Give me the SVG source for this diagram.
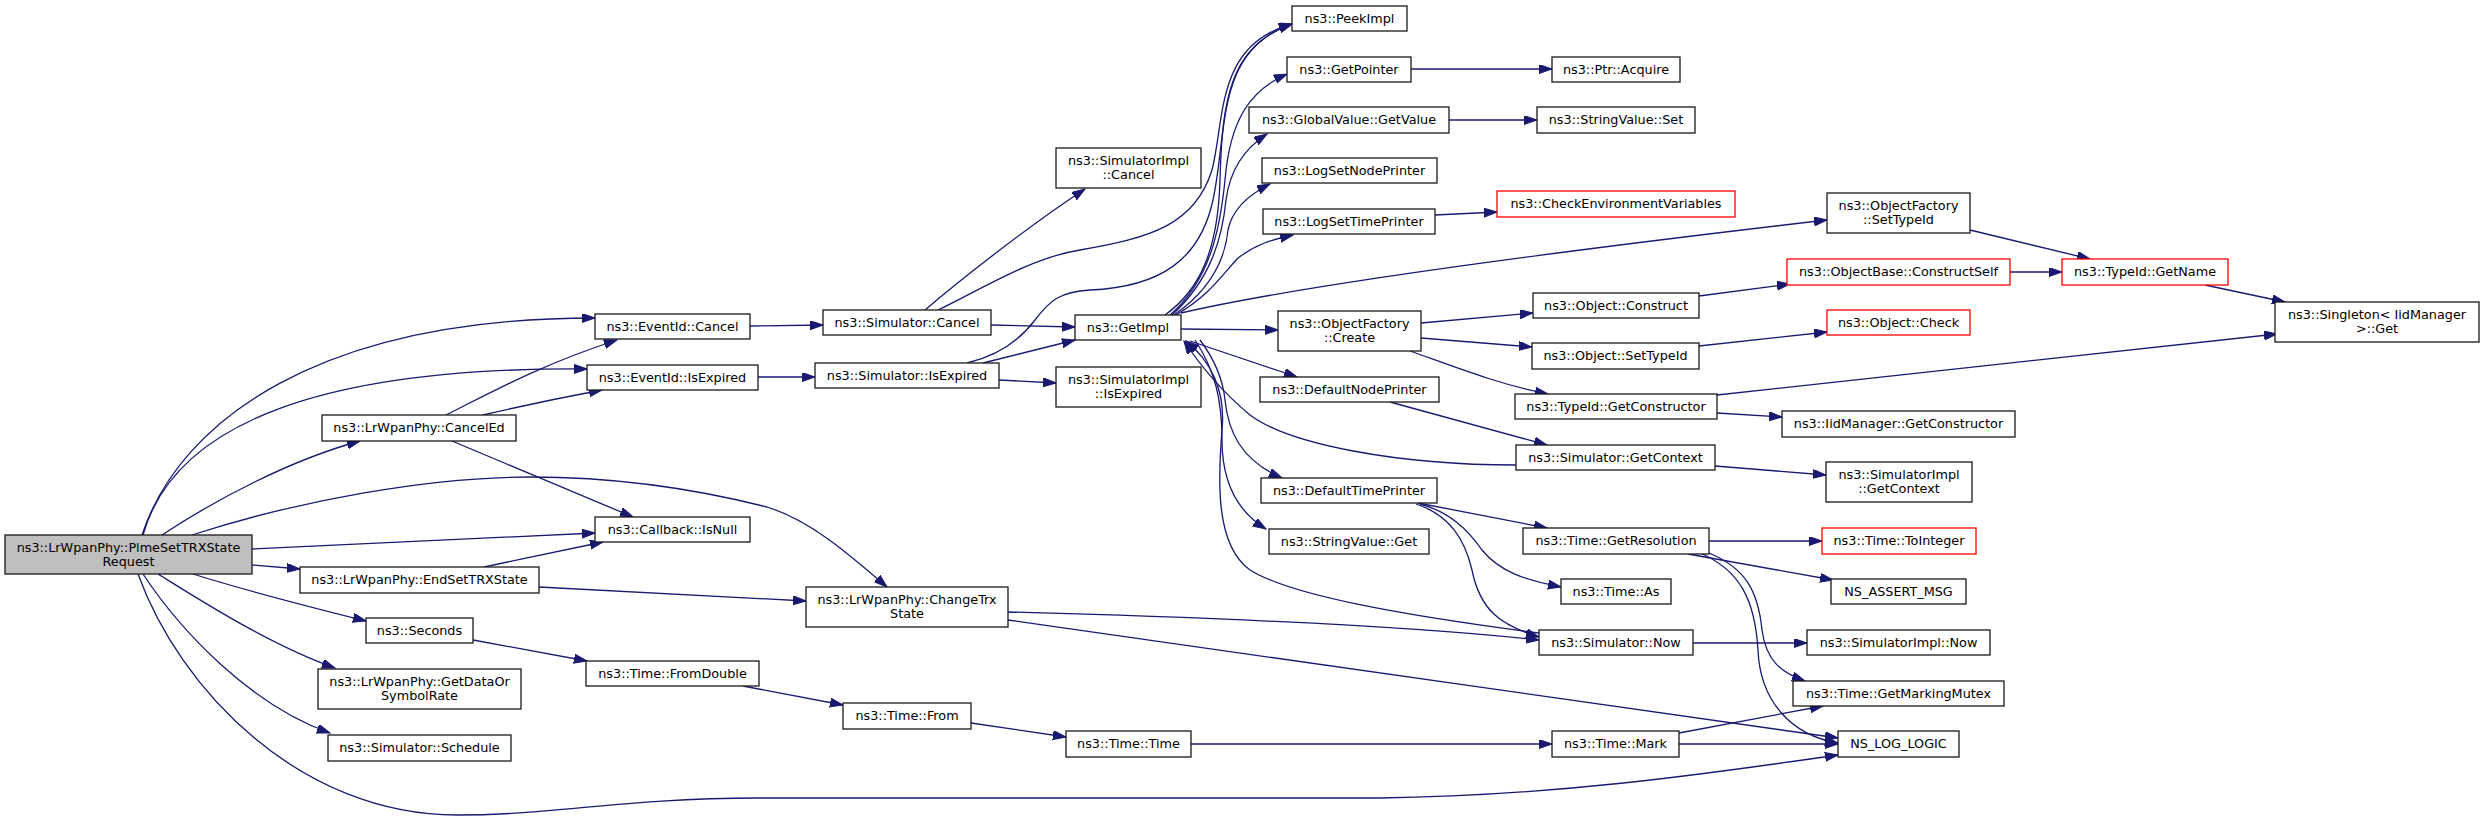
<svg xmlns="http://www.w3.org/2000/svg" width="2484" height="822" viewBox="0 0 2484 822">
<defs>
<style>
.n rect{fill:#fff;stroke:#1a1a1a;stroke-width:1.3}
.r rect{stroke:#ff0000}
.root rect{fill:#bfbfbf}
text{font-family:"DejaVu Sans","Liberation Sans",sans-serif;font-size:12.8px;fill:#000;text-anchor:middle}
#edges path{fill:none;stroke:#191970;stroke-width:1.3;marker-end:url(#ah)}
</style>
<marker id="ah" markerUnits="userSpaceOnUse" markerWidth="14" markerHeight="10" refX="13" refY="4.5" orient="auto"><path d="M0,0 L13,4.5 L0,9 z" fill="#191970" stroke="#191970" stroke-width="1"/></marker>
</defs>
<rect width="2484" height="822" fill="#fff"/>
<g id="edges">
<path d="M142,535 C180,420 320,318 595,318"/>
<path d="M143,535 C175,420 330,367 587,369"/>
<path d="M162,535 C215,500 290,460 360,441"/>
<path d="M192,535 C300,500 430,477 530,477 C620,477 700,490 767,507 C810,520 850,555 887,587"/>
<path d="M252,549 L595,533"/>
<path d="M252,565 L300,569"/>
<path d="M193,574 C250,592 310,607 366,621"/>
<path d="M158,574 C200,600 270,645 335,668"/>
<path d="M143,574 C180,630 250,705 330,733"/>
<path d="M138,574 C180,690 300,815 457,815 C560,815 620,798 760,798 L1380,798 C1550,796 1700,775 1838,755"/>
<path d="M446,415 C490,393 540,365 617,340"/>
<path d="M483,415 C530,404 570,396 602,390"/>
<path d="M452,441 L633,517"/>
<path d="M484,567 L603,542"/>
<path d="M539,587 L806,601"/>
<path d="M750,326 L823,325"/>
<path d="M758,377 L815,377"/>
<path d="M925,310 C960,280 1030,225 1085,189"/>
<path d="M938,310 C980,290 1030,258 1080,250 C1150,238 1195,225 1212,170 C1225,120 1215,45 1292,24"/>
<path d="M991,325 L1075,327"/>
<path d="M983,363 L1075,340"/>
<path d="M999,380 L1056,383"/>
<path d="M967,363 C1000,355 1020,340 1035,320 C1050,300 1060,292 1090,290 C1160,287 1200,260 1213,200 C1228,130 1215,50 1292,24"/>
<path d="M1165,315 C1200,290 1218,250 1220,180 C1222,100 1230,45 1292,24"/>
<path d="M1170,315 C1210,280 1220,230 1225,180 C1230,120 1250,90 1287,74"/>
<path d="M1172,315 C1210,280 1222,240 1226,200 C1230,170 1245,148 1267,134"/>
<path d="M1174,315 C1210,290 1225,260 1228,230 C1232,210 1248,195 1270,184"/>
<path d="M1176,315 C1210,295 1222,275 1238,258 C1255,245 1270,240 1293,235"/>
<path d="M1181,313 C1280,290 1500,258 1827,220"/>
<path d="M1181,329 L1278,330"/>
<path d="M1190,341 L1297,377"/>
<path d="M1200,340 C1215,360 1223,380 1225,400 C1228,430 1240,460 1282,478"/>
<path d="M1195,340 C1215,370 1222,400 1222,440 C1222,480 1235,510 1266,529"/>
<path d="M1516,465 C1400,465 1290,445 1250,415 C1220,390 1200,365 1184,341"/>
<path d="M1539,633 C1400,615 1290,595 1250,570 C1215,545 1218,480 1222,430 C1226,390 1210,360 1186,341"/>
<path d="M1390,402 L1547,445"/>
<path d="M1418,503 L1547,528"/>
<path d="M1420,504 C1450,512 1468,530 1482,550 C1500,572 1525,580 1561,587"/>
<path d="M1416,504 C1450,515 1465,540 1472,570 C1480,610 1500,625 1539,637"/>
<path d="M1008,612 C1200,617 1400,625 1539,640"/>
<path d="M1008,620 L1838,738"/>
<path d="M1715,466 L1826,475"/>
<path d="M1717,413 L1782,417"/>
<path d="M1717,395 L2277,334"/>
<path d="M1421,323 L1533,313"/>
<path d="M1421,338 L1532,347"/>
<path d="M1410,351 C1450,365 1500,385 1548,394"/>
<path d="M1699,296 L1790,284"/>
<path d="M1699,346 L1827,332"/>
<path d="M2010,272 L2062,272"/>
<path d="M1970,230 L2090,259"/>
<path d="M2205,285 L2285,302"/>
<path d="M1435,215 L1497,212"/>
<path d="M1411,69 L1552,69"/>
<path d="M1449,120 L1537,120"/>
<path d="M1693,643 L1807,643"/>
<path d="M1709,541 L1822,541"/>
<path d="M1688,554 L1833,580"/>
<path d="M1709,553 C1745,568 1758,590 1762,630 C1766,660 1780,672 1805,681"/>
<path d="M1700,553 C1740,570 1755,600 1758,650 C1760,700 1790,735 1838,743"/>
<path d="M1679,733 L1823,706"/>
<path d="M1679,744 L1838,744"/>
<path d="M1191,744 L1552,744"/>
<path d="M971,723 L1066,737"/>
<path d="M743,686 L843,705"/>
<path d="M473,640 L587,661"/>
</g>
<g id="n_root" class="n root"><rect x="5" y="535" width="247" height="39"/><text x="128.5" y="551.5">ns3::LrWpanPhy::PlmeSetTRXState</text><text x="128.5" y="565.5">Request</text></g>
<g id="n_evcancel" class="n"><rect x="595" y="314" width="155" height="25"/><text x="672.5" y="330.5">ns3::EventId::Cancel</text></g>
<g id="n_evexp" class="n"><rect x="587" y="365" width="171" height="25"/><text x="672.5" y="381.5">ns3::EventId::IsExpired</text></g>
<g id="n_canceled" class="n"><rect x="322" y="415" width="194" height="26"/><text x="419" y="432">ns3::LrWpanPhy::CancelEd</text></g>
<g id="n_isnull" class="n"><rect x="595" y="517" width="155" height="25"/><text x="672.5" y="533.5">ns3::Callback::IsNull</text></g>
<g id="n_endset" class="n"><rect x="300" y="567" width="239" height="26"/><text x="419.5" y="584">ns3::LrWpanPhy::EndSetTRXState</text></g>
<g id="n_seconds" class="n"><rect x="366" y="618" width="107" height="25"/><text x="419.5" y="634.5">ns3::Seconds</text></g>
<g id="n_getdata" class="n"><rect x="318" y="669" width="203" height="40"/><text x="419.5" y="685.5">ns3::LrWpanPhy::GetDataOr</text><text x="419.5" y="699.5">SymbolRate</text></g>
<g id="n_schedule" class="n"><rect x="328" y="735" width="183" height="26"/><text x="419.5" y="752">ns3::Simulator::Schedule</text></g>
<g id="n_fromdouble" class="n"><rect x="586" y="661" width="173" height="25"/><text x="672.5" y="677.5">ns3::Time::FromDouble</text></g>
<g id="n_simcancel" class="n"><rect x="823" y="310" width="168" height="25"/><text x="907" y="326.5">ns3::Simulator::Cancel</text></g>
<g id="n_simexp" class="n"><rect x="815" y="363" width="184" height="25"/><text x="907" y="379.5">ns3::Simulator::IsExpired</text></g>
<g id="n_changetrx" class="n"><rect x="806" y="587" width="202" height="40"/><text x="907" y="603.5">ns3::LrWpanPhy::ChangeTrx</text><text x="907" y="617.5">State</text></g>
<g id="n_timefrom" class="n"><rect x="843" y="703" width="128" height="26"/><text x="907" y="720">ns3::Time::From</text></g>
<g id="n_simimplcancel" class="n"><rect x="1056" y="148" width="145" height="40"/><text x="1128.5" y="164.5">ns3::SimulatorImpl</text><text x="1128.5" y="178.5">::Cancel</text></g>
<g id="n_getimpl" class="n"><rect x="1075" y="315" width="106" height="25"/><text x="1128" y="331.5">ns3::GetImpl</text></g>
<g id="n_simimplexp" class="n"><rect x="1056" y="367" width="145" height="40"/><text x="1128.5" y="383.5">ns3::SimulatorImpl</text><text x="1128.5" y="397.5">::IsExpired</text></g>
<g id="n_timetime" class="n"><rect x="1066" y="731" width="125" height="26"/><text x="1128.5" y="748">ns3::Time::Time</text></g>
<g id="n_peekimpl" class="n"><rect x="1292" y="6" width="115" height="25"/><text x="1349.5" y="22.5">ns3::PeekImpl</text></g>
<g id="n_getpointer" class="n"><rect x="1287" y="57" width="124" height="25"/><text x="1349" y="73.5">ns3::GetPointer</text></g>
<g id="n_globalvalue" class="n"><rect x="1249" y="107" width="200" height="26"/><text x="1349" y="124">ns3::GlobalValue::GetValue</text></g>
<g id="n_lognode" class="n"><rect x="1262" y="158" width="175" height="25"/><text x="1349.5" y="174.5">ns3::LogSetNodePrinter</text></g>
<g id="n_logtime" class="n"><rect x="1263" y="209" width="172" height="25"/><text x="1349" y="225.5">ns3::LogSetTimePrinter</text></g>
<g id="n_ofcreate" class="n"><rect x="1278" y="311" width="143" height="40"/><text x="1349.5" y="327.5">ns3::ObjectFactory</text><text x="1349.5" y="341.5">::Create</text></g>
<g id="n_defnode" class="n"><rect x="1260" y="377" width="179" height="25"/><text x="1349.5" y="393.5">ns3::DefaultNodePrinter</text></g>
<g id="n_deftime" class="n"><rect x="1261" y="478" width="176" height="25"/><text x="1349" y="494.5">ns3::DefaultTimePrinter</text></g>
<g id="n_strget" class="n"><rect x="1269" y="529" width="160" height="25"/><text x="1349" y="545.5">ns3::StringValue::Get</text></g>
<g id="n_ptracq" class="n"><rect x="1552" y="57" width="128" height="25"/><text x="1616" y="73.5">ns3::Ptr::Acquire</text></g>
<g id="n_strset" class="n"><rect x="1537" y="107" width="158" height="26"/><text x="1616" y="124">ns3::StringValue::Set</text></g>
<g id="n_checkenv" class="n r"><rect x="1497" y="191" width="238" height="26"/><text x="1616" y="208">ns3::CheckEnvironmentVariables</text></g>
<g id="n_objconstruct" class="n"><rect x="1533" y="293" width="166" height="25"/><text x="1616" y="309.5">ns3::Object::Construct</text></g>
<g id="n_objsettype" class="n"><rect x="1532" y="343" width="167" height="26"/><text x="1615.5" y="360">ns3::Object::SetTypeId</text></g>
<g id="n_getctor" class="n"><rect x="1515" y="394" width="202" height="25"/><text x="1616" y="410.5">ns3::TypeId::GetConstructor</text></g>
<g id="n_simgetctx" class="n"><rect x="1516" y="445" width="199" height="25"/><text x="1615.5" y="461.5">ns3::Simulator::GetContext</text></g>
<g id="n_getres" class="n"><rect x="1523" y="528" width="186" height="26"/><text x="1616" y="545">ns3::Time::GetResolution</text></g>
<g id="n_timeas" class="n"><rect x="1561" y="579" width="110" height="25"/><text x="1616" y="595.5">ns3::Time::As</text></g>
<g id="n_simnow" class="n"><rect x="1539" y="630" width="154" height="25"/><text x="1616" y="646.5">ns3::Simulator::Now</text></g>
<g id="n_timemark" class="n"><rect x="1552" y="731" width="127" height="26"/><text x="1615.5" y="748">ns3::Time::Mark</text></g>
<g id="n_ofsettype" class="n"><rect x="1827" y="193" width="143" height="40"/><text x="1898.5" y="209.5">ns3::ObjectFactory</text><text x="1898.5" y="223.5">::SetTypeId</text></g>
<g id="n_constructself" class="n r"><rect x="1787" y="259" width="223" height="26"/><text x="1898.5" y="276">ns3::ObjectBase::ConstructSelf</text></g>
<g id="n_objcheck" class="n r"><rect x="1827" y="310" width="143" height="25"/><text x="1898.5" y="326.5">ns3::Object::Check</text></g>
<g id="n_iidctor" class="n"><rect x="1782" y="411" width="233" height="26"/><text x="1898.5" y="428">ns3::IidManager::GetConstructor</text></g>
<g id="n_simimplctx" class="n"><rect x="1826" y="462" width="146" height="40"/><text x="1899" y="478.5">ns3::SimulatorImpl</text><text x="1899" y="492.5">::GetContext</text></g>
<g id="n_tointeger" class="n r"><rect x="1822" y="528" width="154" height="26"/><text x="1899" y="545">ns3::Time::ToInteger</text></g>
<g id="n_assert" class="n"><rect x="1831" y="579" width="135" height="25"/><text x="1898.5" y="595.5">NS_ASSERT_MSG</text></g>
<g id="n_simimplnow" class="n"><rect x="1807" y="630" width="183" height="25"/><text x="1898.5" y="646.5">ns3::SimulatorImpl::Now</text></g>
<g id="n_markmutex" class="n"><rect x="1793" y="681" width="211" height="25"/><text x="1898.5" y="697.5">ns3::Time::GetMarkingMutex</text></g>
<g id="n_nslog" class="n"><rect x="1838" y="731" width="121" height="26"/><text x="1898.5" y="748">NS_LOG_LOGIC</text></g>
<g id="n_getname" class="n r"><rect x="2062" y="259" width="166" height="26"/><text x="2145" y="276">ns3::TypeId::GetName</text></g>
<g id="n_singleton" class="n"><rect x="2275" y="302" width="204" height="40"/><text x="2377" y="318.5">ns3::Singleton&lt; IidManager</text><text x="2377" y="332.5">&gt;::Get</text></g>
</svg>
